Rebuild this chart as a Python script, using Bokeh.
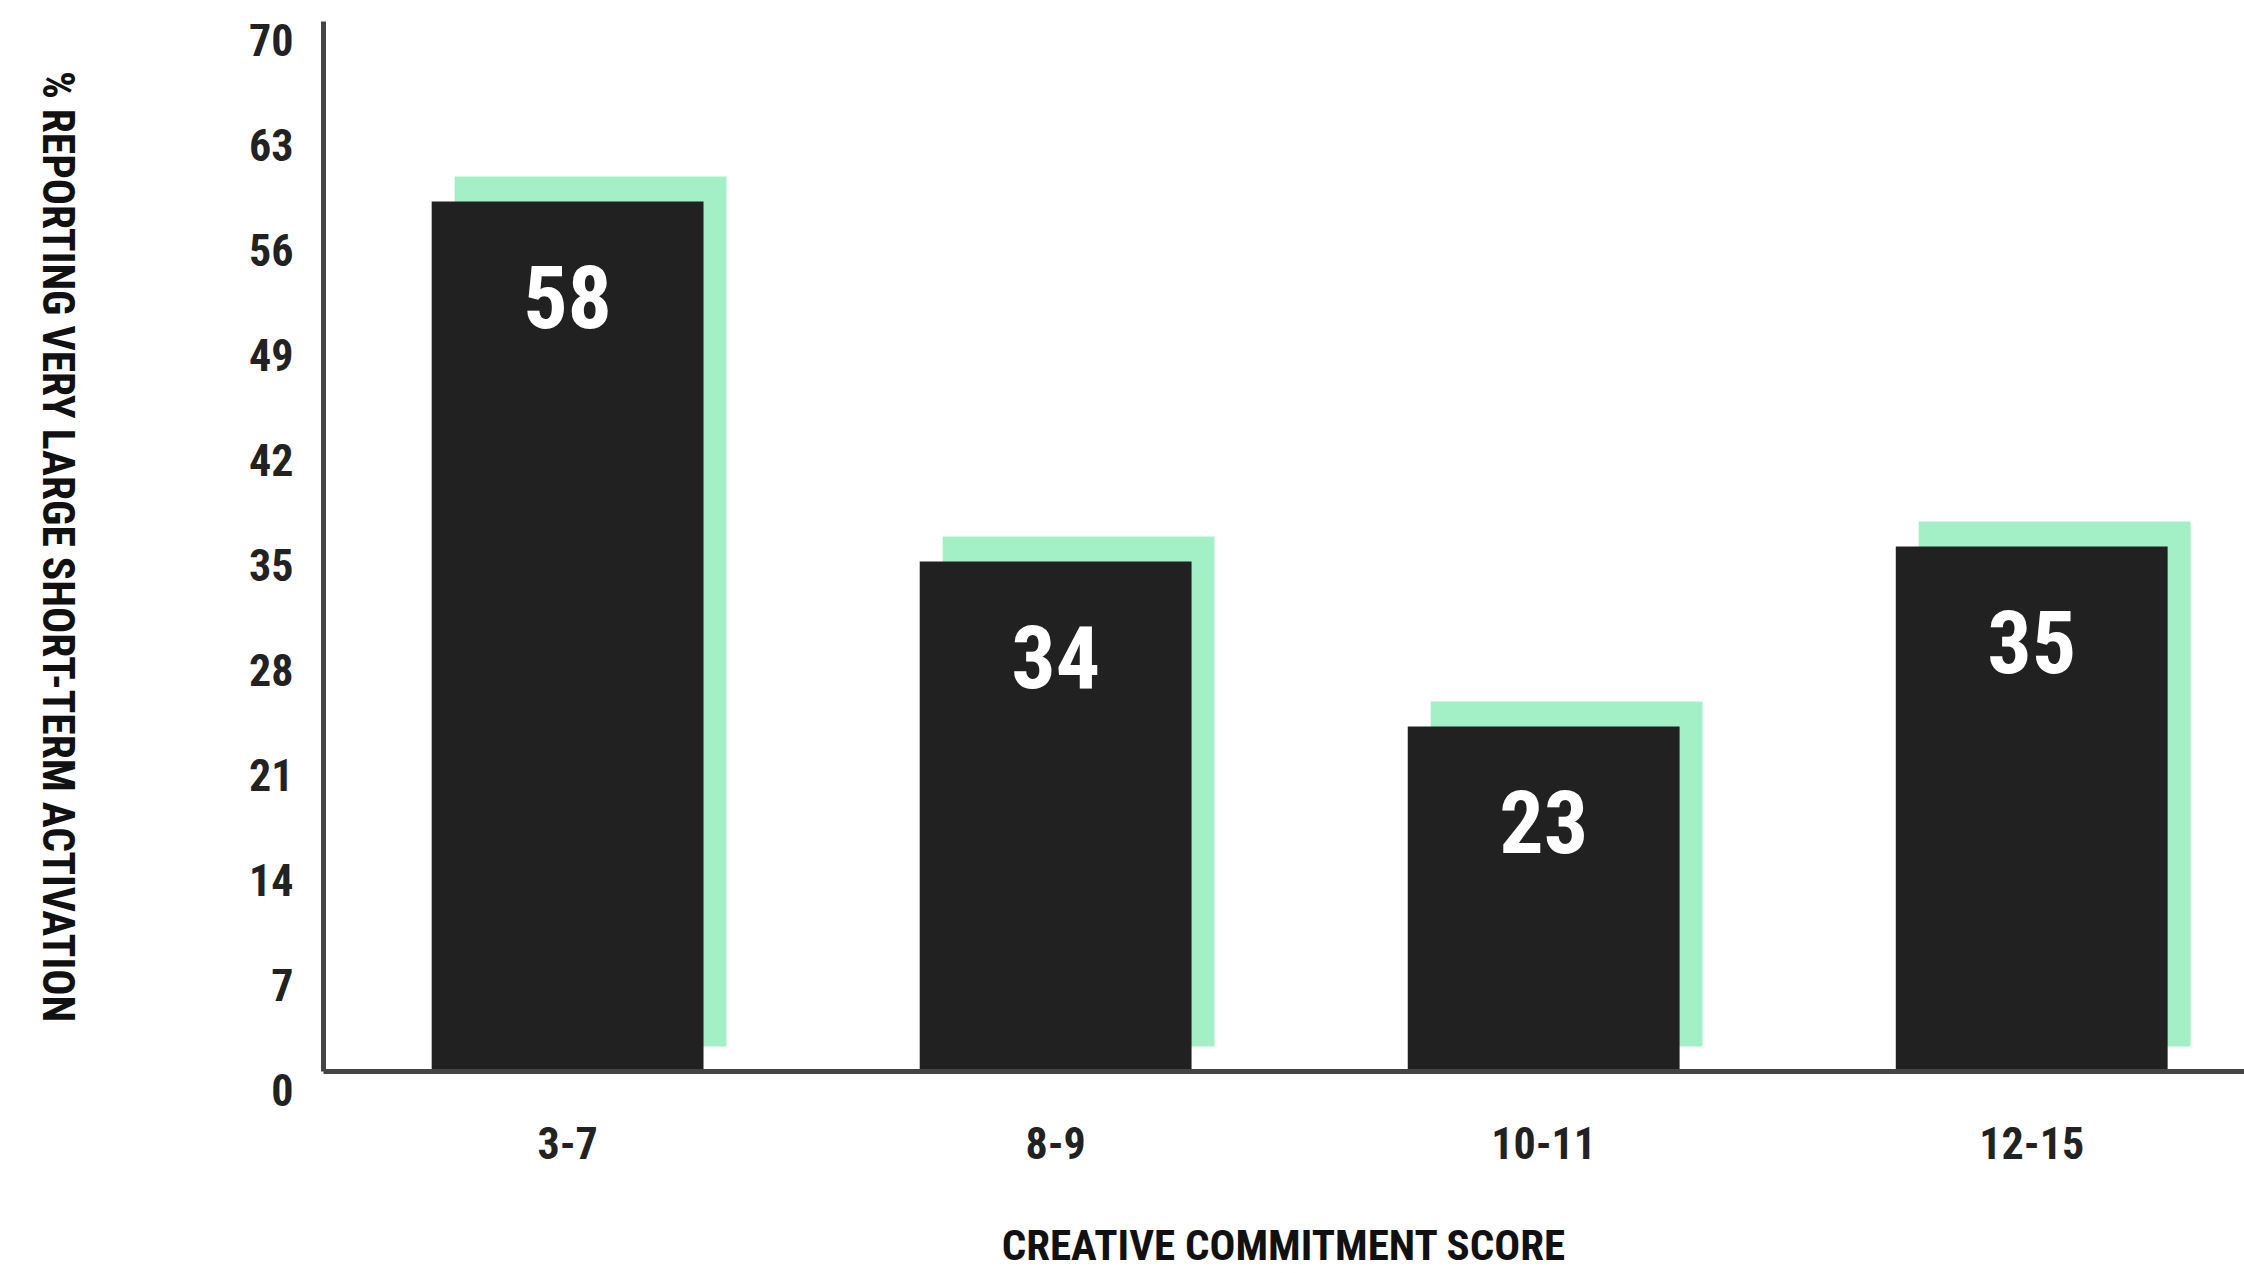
import math
from bokeh.plotting import figure
from bokeh.models import ColumnDataSource, LabelSet, Label, Range1d, FixedTicker, LinearAxis
from bokeh.core.properties import value
from bokeh.embed import file_html
from bokeh.resources import INLINE

# ---- data ----
categories = ["3-7", "8-9", "10-11", "12-15"]
values = [58, 34, 23, 35]
y_ticks = [0, 7, 14, 21, 28, 35, 42, 49, 56, 63, 70]
y_tick_labels = [str(t) for t in y_ticks]
x_title = "CREATIVE COMMITMENT SCORE"
y_title = "% REPORTING VERY LARGE SHORT-TERM ACTIVATION"

# ---- style ----
FONT = "Roboto Condensed"
BAR = "#212121"
SHADOW = "#a3f0c6"
AXIS = "#444444"
TEXT = "#222222"
BAR_WIDTH = 0.557
SHADOW_DX = 0.047   # category units
SHADOW_DY = 1.667   # value units

# view window (frame covers the whole canvas; axes sit inside at 0)
X_START, X_END = -0.662, 3.936
Y_START, Y_END = -13.47, 71.4

xs = [i + 0.5 for i in range(len(categories))]
src = ColumnDataSource(dict(
    x=xs,
    top=values,
    sx=[x + SHADOW_DX for x in xs],
    stop=[v + SHADOW_DY for v in values],
    sbottom=[SHADOW_DY] * len(values),
    label=[str(v) for v in values],
))

p = figure(width=2244, height=1273,
           x_range=Range1d(X_START, X_END), y_range=Range1d(Y_START, Y_END),
           x_axis_location=None, y_axis_location=None,
           output_backend="svg", toolbar_location=None,
           min_border=0)
p.outline_line_color = None
p.grid.visible = False
p.background_fill_color = "white"
p.border_fill_color = "white"

# shadow bars then main bars
p.vbar(x="sx", top="stop", bottom="sbottom", width=BAR_WIDTH, source=src,
       fill_color=SHADOW, line_color=None)
p.vbar(x="x", top="top", bottom=0, width=BAR_WIDTH, source=src,
       fill_color=BAR, line_color=None)

# value labels
p.add_layout(LabelSet(x="x", y="top", text="label", source=src, y_offset=-95,
                      text_align="center", text_baseline="middle",
                      text_color="white", text_font=value(FONT),
                      text_font_size=value("88px"), text_font_style=value("bold")))

# x axis at y = 0
xa = LinearAxis(fixed_location=0, bounds=(0, X_END))
xa.ticker = FixedTicker(ticks=xs)
xa.major_label_overrides = {x: c for x, c in zip(xs, categories)}
xa.axis_line_color = AXIS
xa.axis_line_width = 5
xa.major_tick_line_color = None
xa.minor_tick_line_color = None
xa.major_tick_out = 0
xa.major_tick_in = 0
xa.major_label_standoff = 56
xa.major_label_text_font = FONT
xa.major_label_text_font_size = "44px"
xa.major_label_text_font_style = "bold"
xa.major_label_text_color = TEXT
xa.axis_label = x_title
xa.axis_label_text_font = FONT
xa.axis_label_text_font_size = "43px"
xa.axis_label_text_font_style = "bold"
xa.axis_label_text_color = "#111111"
xa.axis_label_standoff = 57
p.add_layout(xa, "below")

# y axis at x = 0: line only
ya = LinearAxis(fixed_location=0, bounds=(0, y_ticks[-1]))
ya.ticker = FixedTicker(ticks=[])
ya.axis_line_color = AXIS
ya.axis_line_width = 5
ya.major_tick_line_color = None
ya.minor_tick_line_color = None
ya.major_tick_out = 0
ya.major_tick_in = 0
ya.major_label_text_font_size = "0px"
p.add_layout(ya, "left")

# y tick labels (sit slightly below each tick value, as in the source)
tick_src = ColumnDataSource(dict(x=[0] * len(y_ticks), y=y_ticks, t=y_tick_labels))
p.add_layout(LabelSet(x="x", y="y", text="t", source=tick_src,
                      x_offset=-30, y_offset=-19,
                      text_align="right", text_baseline="middle",
                      text_color=TEXT, text_font=value(FONT),
                      text_font_size=value("44px"), text_font_style=value("bold")))

# y axis title, reading top to bottom
p.add_layout(Label(x=0, y=y_ticks[-1] / 2, x_offset=-266, text=y_title,
                   angle=-math.pi / 2, text_align="center", text_baseline="middle",
                   text_color="#111111", text_font=FONT,
                   text_font_size="43.5px", text_font_style="bold"))

open("out.html", "w").write(file_html(p, INLINE))
